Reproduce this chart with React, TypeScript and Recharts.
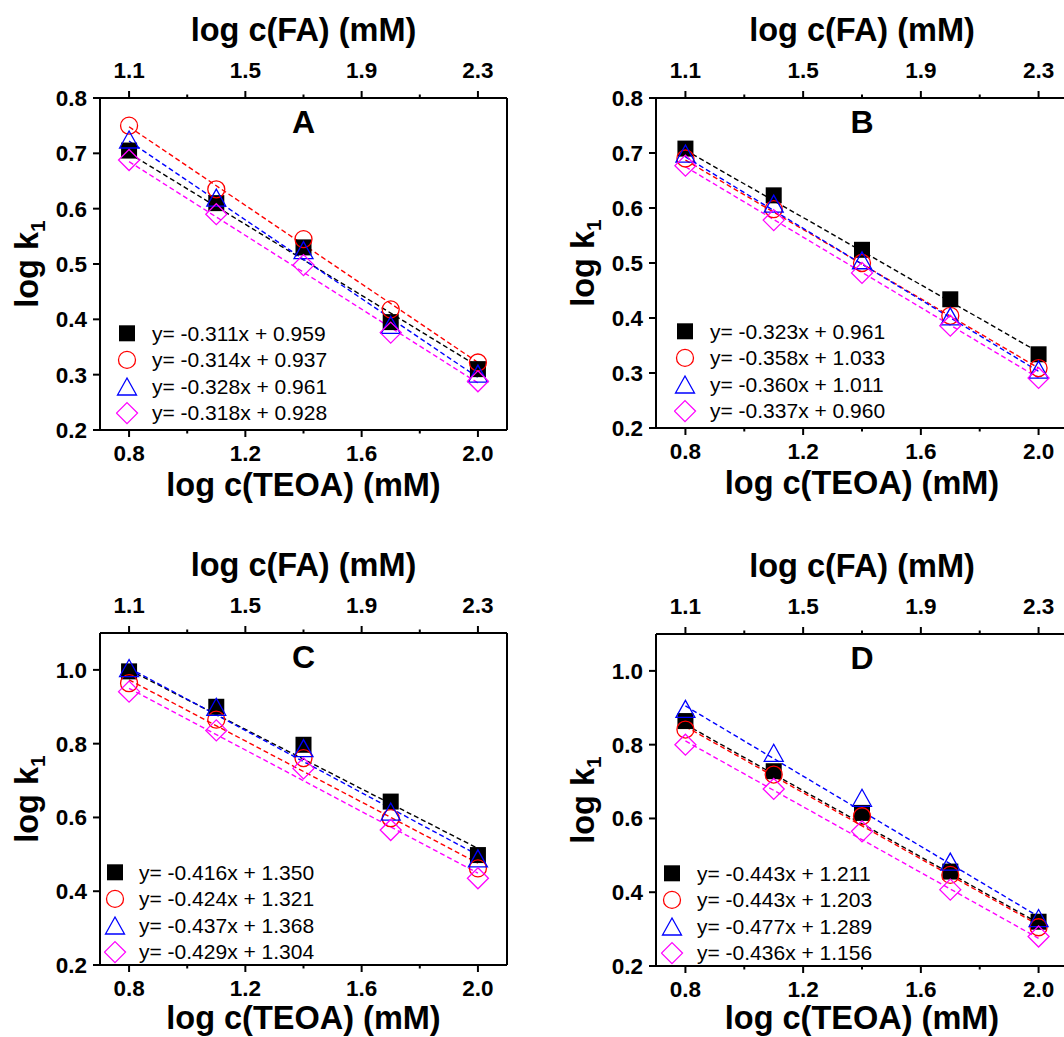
import React from 'react';
import {
  ScatterChart,
  Scatter,
  XAxis,
  YAxis,
  ReferenceLine,
  Legend,
} from 'recharts';

const FONT = "'Liberation Sans', Arial, Helvetica, sans-serif";

// log c(TEOA) and log c(FA) values, fit line ends, and tick positions
const teoa = [0.8, 1.1, 1.4, 1.7, 2.0];
const fa = [1.1, 1.4, 1.7, 2.0, 2.3];
const fitX = [0.8, 2.0];
const bottomTicks = [0.8, 1.0, 1.2, 1.4, 1.6, 1.8, 2.0];
const bottomMajor = [0.8, 1.2, 1.6, 2.0];
const topTicks = [1.1, 1.3, 1.5, 1.7, 1.9, 2.1, 2.3];
const topMajor = [1.1, 1.5, 1.9, 2.3];
const yTicksAB = [0.2, 0.3, 0.4, 0.5, 0.6, 0.7, 0.8];
const yTicksCD = [0.2, 0.4, 0.6, 0.8, 1.0];

// panel A
const aSquare = [0.705, 0.61, 0.53, 0.395, 0.31];
const aCircle = [0.75, 0.635, 0.545, 0.418, 0.322];
const aTriangle = [0.725, 0.62, 0.525, 0.39, 0.302];
const aDiamond = [0.688, 0.59, 0.498, 0.376, 0.288];
const aFits = [[0.70, 0.315], [0.748, 0.322], [0.722, 0.295], [0.685, 0.285]];
const aLegend = ['y= -0.311x + 0.959', 'y= -0.314x + 0.937', 'y= -0.328x + 0.961', 'y= -0.318x + 0.928'];

// panel B
const bSquare = [0.708, 0.623, 0.524, 0.434, 0.334];
const bCircle = [0.69, 0.598, 0.5, 0.404, 0.309];
const bTriangle = [0.699, 0.608, 0.505, 0.403, 0.306];
const bDiamond = [0.677, 0.578, 0.482, 0.386, 0.291];
const bFits = [[0.705, 0.338], [0.687, 0.309], [0.693, 0.303], [0.675, 0.291]];
const bLegend = ['y= -0.323x + 0.961', 'y= -0.358x + 1.033', 'y= -0.360x + 1.011', 'y= -0.337x + 0.960'];

// panel C
const cSquare = [0.996, 0.9, 0.797, 0.643, 0.498];
const cCircle = [0.964, 0.865, 0.761, 0.598, 0.462];
const cTriangle = [1.005, 0.9, 0.788, 0.616, 0.489];
const cDiamond = [0.941, 0.836, 0.733, 0.566, 0.435];
const cFits = [[1.0, 0.516], [0.973, 0.476], [1.005, 0.498], [0.95, 0.449]];
const cLegend = ['y= -0.416x + 1.350', 'y= -0.424x + 1.321', 'y= -0.437x + 1.368', 'y= -0.429x + 1.304'];

// panel D
const dSquare = [0.864, 0.728, 0.615, 0.456, 0.32];
const dCircle = [0.841, 0.719, 0.606, 0.447, 0.305];
const dTriangle = [0.897, 0.778, 0.656, 0.483, 0.33];
const dDiamond = [0.8, 0.68, 0.565, 0.407, 0.28];
const dFits = [[0.855, 0.316], [0.849, 0.311], [0.905, 0.334], [0.81, 0.275]];
const dLegend = ['y= -0.443x + 1.211', 'y= -0.443x + 1.203', 'y= -0.477x + 1.289', 'y= -0.436x + 1.156'];

const kinds = ['square', 'circle', 'triangle', 'diamond'];
const colors = ['#000000', '#FF0000', '#0000FF', '#FF00FF'];

function Marker({kind, cx, cy}: {kind: string; cx: number; cy: number}) {
  if (cx == null || cy == null) return <g />;
  if (kind === 'square') {
    return <rect x={cx - 8} y={cy - 8} width={16} height={16} fill="#000" />;
  }
  if (kind === 'circle') {
    return <circle cx={cx} cy={cy} r={8.5} fill="none" stroke="#FF0000" strokeWidth={1.3} />;
  }
  if (kind === 'triangle') {
    return (
      <polygon
        points={`${cx},${cy - 8.5} ${cx + 9.5},${cy + 8.5} ${cx - 9.5},${cy + 8.5}`}
        fill="none"
        stroke="#0000FF"
        strokeWidth={1.3}
      />
    );
  }
  return (
    <polygon
      points={`${cx},${cy - 10.5} ${cx + 10.5},${cy} ${cx},${cy + 10.5} ${cx - 10.5},${cy}`}
      fill="none"
      stroke="#FF00FF"
      strokeWidth={1.3}
    />
  );
}

const isIn = (list: number[], v: number) => list.some(m => Math.abs(m - v) < 1e-6);

type Layout = {
  left: number;
  top: number;
  width: number;
  height: number;
  plot: {l: number; t: number; r: number; b: number};
  legend: {x: number; y: number; text: number};
  titleGap: number;
};

type PanelProps = {
  letter: string;
  series: number[][];
  fits: number[][];
  legend: string[];
  yDomain: [number, number];
  yTicks: number[];
  layout: Layout;
};

const TICK_FS = 22.5;
const TITLE_FS = 32.5;
const LEGEND_FS = 21;

function Panel({letter, series, fits, legend, yDomain, yTicks, layout}: PanelProps) {
  const {width, height, plot} = layout;
  const cx = (plot.l + plot.r) / 2;
  const cy = (plot.t + plot.b) / 2;
  const rowH = 26.6;

  const bottomTick = (p: any) => {
    const v = p.payload.value;
    const major = isIn(bottomMajor, v);
    return (
      <g>
        <line x1={p.x} x2={p.x} y1={p.y} y2={p.y + (major ? 7 : 3.5)} stroke="#000" strokeWidth={2} />
        {major && (
          <text x={p.x} y={p.y + 23} dy="0.35em" textAnchor="middle" fontSize={TICK_FS} fontWeight="bold" fontFamily={FONT} fill="#000">
            {v.toFixed(1)}
          </text>
        )}
      </g>
    );
  };

  const topTick = (p: any) => {
    const v = p.payload.value;
    const major = isIn(topMajor, v);
    return (
      <g>
        <line x1={p.x} x2={p.x} y1={p.y} y2={p.y - (major ? 7 : 3.5)} stroke="#000" strokeWidth={2} />
        {major && (
          <text x={p.x} y={p.y - 28} dy="0.35em" textAnchor="middle" fontSize={TICK_FS} fontWeight="bold" fontFamily={FONT} fill="#000">
            {v.toFixed(1)}
          </text>
        )}
      </g>
    );
  };

  const leftTick = (p: any) => {
    const v = p.payload.value;
    return (
      <g>
        <line x1={p.x} x2={p.x - 7} y1={p.y} y2={p.y} stroke="#000" strokeWidth={2} />
        <text x={p.x - 13} y={p.y} dy="0.35em" textAnchor="end" fontSize={TICK_FS} fontWeight="bold" fontFamily={FONT} fill="#000">
          {v.toFixed(1)}
        </text>
      </g>
    );
  };

  const topLabel = () => (
    <g>
      <text x={cx} y={plot.t - 57} textAnchor="middle" fontSize={TITLE_FS} fontWeight="bold" fontFamily={FONT} fill="#000">
        log c(FA) (mM)
      </text>
      <text x={cx} y={plot.t + 35} textAnchor="middle" fontSize={32} fontWeight="bold" fontFamily={FONT} fill="#000">
        {letter}
      </text>
    </g>
  );

  const bottomLabel = () => (
    <text x={cx} y={plot.b + layout.titleGap} textAnchor="middle" fontSize={TITLE_FS} fontWeight="bold" fontFamily={FONT} fill="#000">
      log c(TEOA) (mM)
    </text>
  );

  const leftLabel = () => (
    <text
      transform={`translate(${plot.l - 62},${cy}) rotate(-90)`}
      textAnchor="middle"
      fontSize={TITLE_FS}
      fontWeight="bold"
      fontFamily={FONT}
      fill="#000"
    >
      log k
      <tspan fontSize={21} dy={7}>1</tspan>
    </text>
  );

  const textDx = layout.legend.text - layout.legend.x + 11;
  const legendContent = () => (
    <svg width={340} height={rowH * 4 + 4} style={{display: 'block'}}>
      {legend.map((txt, i) => {
        const ry = 2 + rowH * i + rowH / 2;
        return (
          <g key={txt + i}>
            <Marker kind={kinds[i]} cx={11} cy={ry} />
            <text x={textDx} y={ry} dy="0.35em" fontSize={LEGEND_FS} fontFamily={FONT} fill="#000">
              {txt}
            </text>
          </g>
        );
      })}
    </svg>
  );

  return (
    <ScatterChart
      width={width}
      height={height}
      margin={{top: 0, left: 0, right: width - plot.r, bottom: 0}}
    >
      <XAxis
        xAxisId="bottom"
        orientation="bottom"
        type="number"
        dataKey="x"
        domain={[0.7, 2.1]}
        allowDataOverflow
        ticks={bottomTicks}
        interval={0}
        height={height - plot.b}
        tick={bottomTick}
        tickLine={false}
        tickSize={0}
        tickMargin={0}
        axisLine={{stroke: '#000', strokeWidth: 2}}
        label={bottomLabel}
      />
      <XAxis
        xAxisId="top"
        orientation="top"
        type="number"
        dataKey="x"
        domain={[1.0, 2.4]}
        allowDataOverflow
        ticks={topTicks}
        interval={0}
        height={plot.t}
        tick={topTick}
        tickLine={false}
        tickSize={0}
        tickMargin={0}
        axisLine={{stroke: '#000', strokeWidth: 2}}
        label={topLabel}
      />
      <YAxis
        yAxisId="left"
        type="number"
        dataKey="y"
        domain={yDomain}
        allowDataOverflow
        ticks={yTicks}
        interval={0}
        width={plot.l}
        tick={leftTick}
        tickLine={false}
        tickSize={0}
        tickMargin={0}
        axisLine={{stroke: '#000', strokeWidth: 2}}
        label={leftLabel}
      />
      <ReferenceLine x={2.1} xAxisId="bottom" yAxisId="left" stroke="#000" strokeWidth={2} ifOverflow="visible" />
      {/* the same first series against log c(FA), invisible, so the top axis gets a scale */}
      <Scatter
        xAxisId="top"
        yAxisId="left"
        data={fa.map((x, j) => ({x, y: series[0][j]}))}
        shape={() => <g />}
        fill="none"
        legendType="none"
        isAnimationActive={false}
      />
      {fits.map((f, i) => (
        <Scatter
          key={'fit' + i}
          xAxisId="bottom"
          yAxisId="left"
          data={fitX.map((x, j) => ({x, y: f[j]}))}
          line={{stroke: colors[i], strokeWidth: 1.4, strokeDasharray: '5 3'}}
          lineType="joint"
          shape={() => <g />}
          fill={colors[i]}
          isAnimationActive={false}
        />
      ))}
      {series.map((s, i) => (
        <Scatter
          key={'pts' + i}
          xAxisId="bottom"
          yAxisId="left"
          data={teoa.map((x, j) => ({x, y: s[j]}))}
          shape={(p: any) => <Marker kind={kinds[i]} cx={p.cx} cy={p.cy} />}
          fill={colors[i]}
          isAnimationActive={false}
        />
      ))}
      <Legend
        layout="vertical"
        align="center"
        verticalAlign="middle"
        wrapperStyle={{left: layout.legend.x - 11, top: layout.legend.y - rowH / 2 - 2, width: 340}}
        content={legendContent}
      />
    </ScatterChart>
  );
}

const layoutA: Layout = {left: 0, top: 0, width: 530, height: 515, plot: {l: 100, t: 98, r: 507, b: 430}, legend: {x: 127, y: 333, text: 152}, titleGap: 66};
const layoutB: Layout = {left: 550, top: 0, width: 530, height: 515, plot: {l: 106, t: 98, r: 518, b: 428}, legend: {x: 135, y: 331, text: 160}, titleGap: 66};
const layoutC: Layout = {left: 0, top: 520, width: 530, height: 517, plot: {l: 100, t: 113, r: 507, b: 445}, legend: {x: 115, y: 352, text: 139}, titleGap: 64};
const layoutD: Layout = {left: 550, top: 520, width: 530, height: 517, plot: {l: 106, t: 114, r: 518, b: 446}, legend: {x: 122, y: 353, text: 147}, titleGap: 63};

export default function App() {
  const panels: PanelProps[] = [
    {letter: 'A', series: [aSquare, aCircle, aTriangle, aDiamond], fits: aFits, legend: aLegend, yDomain: [0.2, 0.8], yTicks: yTicksAB, layout: layoutA},
    {letter: 'B', series: [bSquare, bCircle, bTriangle, bDiamond], fits: bFits, legend: bLegend, yDomain: [0.2, 0.8], yTicks: yTicksAB, layout: layoutB},
    {letter: 'C', series: [cSquare, cCircle, cTriangle, cDiamond], fits: cFits, legend: cLegend, yDomain: [0.2, 1.1], yTicks: yTicksCD, layout: layoutC},
    {letter: 'D', series: [dSquare, dCircle, dTriangle, dDiamond], fits: dFits, legend: dLegend, yDomain: [0.2, 1.1], yTicks: yTicksCD, layout: layoutD},
  ];
  return (
    <div style={{position: 'absolute', left: 0, top: 0, width: 1064, height: 1037, overflow: 'hidden', background: '#fff'}}>
      {panels.map(p => (
        <div key={p.letter} style={{position: 'absolute', left: p.layout.left, top: p.layout.top}}>
          <Panel {...p} />
        </div>
      ))}
    </div>
  );
}
